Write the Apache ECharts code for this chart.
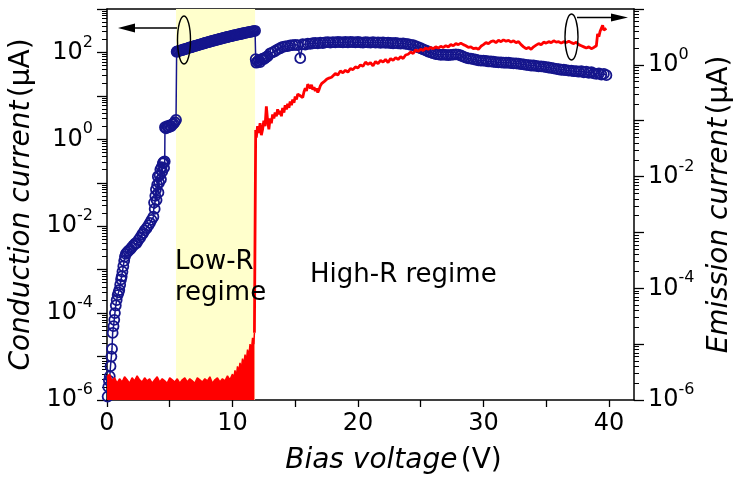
<!DOCTYPE html>
<html><head><meta charset="utf-8">
<script src="https://cdn.jsdelivr.net/npm/echarts@6/dist/echarts.min.js"></script>
<style>html,body{margin:0;padding:0;background:#fff}#c{width:739px;height:481px}</style>
</head><body><div id="c"></div>
<script>
// Conduction current (µA) vs bias voltage (V) — left axis
const condV = [0.05,0.1,0.15,0.22,0.28,0.35,0.4,0.45,0.52,0.58,0.63,0.7,0.77,0.85,0.92,0.98,1.05,1.12,1.17,1.23,1.3,1.37,1.43,1.5,1.6,1.7,1.83,1.95,2.1,2.25,2.36,2.5,2.65,2.8,2.89,3.0,3.15,3.3,3.43,3.55,3.7,3.75,3.8,3.85,3.9,3.95,4.0,4.05,4.1,4.15,4.2,4.25,4.3,4.35,4.4,4.45,4.5,4.55,4.6,4.62,4.7,4.8,4.9,5.0,5.1,5.2,5.3,5.4,5.5,
5.55,5.6,5.7,5.8,5.9,6.0,6.1,6.2,6.3,6.4,6.5,6.6,6.7,6.8,6.9,7.0,7.1,7.2,7.3,7.4,7.5,7.6,7.7,7.8,7.9,8.0,8.1,8.2,8.3,8.4,8.5,8.6,8.7,8.8,8.9,9.0,9.1,9.2,9.3,9.4,9.5,9.6,9.7,9.8,9.9,10.0,10.1,10.2,10.3,10.4,10.5,10.6,10.7,10.8,10.9,11.0,11.1,11.2,11.3,11.4,11.5,11.6,11.7,11.8,
11.85,11.9,12.0,12.1,12.2,12.3,12.4,12.5,12.6,12.7,12.8,13.0,13.2,13.4,13.6,13.8,14.0,14.2,14.4,14.6,14.8,15.0,15.2,15.4,15.6,15.8,16.0,16.2,16.4,16.6,16.8,17.0,17.2,17.4,17.6,17.8,18.0,18.2,18.4,18.6,18.8,19.0,19.2,19.4,19.6,19.8,20.0,20.2,20.4,20.6,20.8,21.0,21.2,21.4,21.6,21.8,22.0,22.2,22.4,22.6,22.8,23.0,23.2,23.4,23.6,23.8,24.0,24.2,24.4,24.6,24.8,25.0,25.2,25.4,25.6,25.8,26.0,26.2,26.4,26.6,26.8,27.0,27.2,27.4,27.6,27.8,28.0,28.2,28.4,28.6,28.8,29.0,29.2,29.4,29.6,29.8,30.0,30.2,30.4,30.6,30.8,31.0,31.2,31.4,31.6,31.8,32.0,32.2,32.4,32.6,32.8,33.0,33.2,33.4,33.6,33.8,34.0,34.2,34.4,34.6,34.8,35.0,35.2,35.4,35.6,35.8,36.0,36.2,36.4,36.6,36.8,37.0,37.2,37.4,37.6,37.8,38.0,38.2,38.4,38.6,38.8,39.0,39.2,39.4,39.6,39.8];
const condI = [1.2e-6,2.0e-6,2.8e-6,3.5e-6,6e-6,1.0e-5,1.5e-5,3.5e-5,5e-5,7e-5,1.0e-4,1.5e-4,2.0e-4,2.6e-4,3.0e-4,3.4e-4,4.5e-4,6e-4,7e-4,9e-4,1.2e-3,1.6e-3,2.0e-3,2.3e-3,2.5e-3,2.7e-3,2.9e-3,3.2e-3,3.6e-3,4.0e-3,4.1e-3,4.8e-3,5.5e-3,6.5e-3,7.0e-3,8.0e-3,9.0e-3,1.05e-2,1.2e-2,1.4e-2,1.65e-2,3.5e-2,2.5e-2,5e-2,7e-2,4e-2,9e-2,0.14,0.06,0.1,0.15,0.2,0.12,0.23,0.18,0.28,0.3,0.22,0.31,1.9,1.8,2.0,1.9,2.1,2.0,2.2,2.3,2.5,2.8,
104,105,107,110,112,114,117,119,121,124,127,130,132,135,138,141,143,146,149,152,155,158,161,165,168,171,174,177,181,184,187,191,194,198,201,205,209,212,216,220,224,227,231,235,238,242,246,250,254,258,262,265,269,273,278,282,286,290,294,298,302,306,310,315,
70,58,62,66,60,68,72,70,75,78,82,95,100,108,118,125,135,138,140,145,148,150,148,74,155,152,160,158,163,165,162,168,165,170,172,168,173,170,175,172,170,174,171,176,172,170,174,171,168,172,170,168,172,169,171,167,170,166,168,165,163,166,162,160,162,157,155,150,148,140,132,125,118,112,105,100,96,92,90,88,89,88,87,88,89,90,89,85,80,76,73,72,70,68,66,65,65,64,62,62,61,60,59,59,58,58,58,57,56,56,55,54,53,52,51,50,50,49,48,48,47,46,45,44,43,42,41,40,40,39,38,38,37,37,36,37,35,36,34,35,33,32,33,31,32,30,31];

// Emission current (µA) — right axis; noise floor below the turn-on
const emisBaseV = [0,0.2,0.4,0.6,0.8,1.0,1.2,1.4,1.6,1.8,2.0,2.2,2.4,2.6,2.8,3.0,3.2,3.4,3.6,3.8,4.0,4.2,4.4,4.6,4.8,5.0,5.2,5.4,5.6,5.8,6.0,6.2,6.4,6.6,6.8,7.0,7.2,7.4,7.6,7.8,8.0,8.2,8.4,8.6,8.8,9.0,9.2,9.4,9.6,9.8,10.0,10.1,10.2,10.3,10.4,10.5,10.6,10.7,10.8,10.9,11.0,11.1,11.2,11.3,11.4,11.5,11.6,11.7,11.75];
const emisBaseI = [2.6e-6,2.9e-6,2.2e-6,2.5e-6,2.0e-6,2.4e-6,2.1e-6,2.6e-6,2.3e-6,2.0e-6,2.5e-6,2.2e-6,2.7e-6,2.3e-6,2.1e-6,2.5e-6,2.2e-6,2.4e-6,2.0e-6,2.3e-6,2.6e-6,2.1e-6,2.4e-6,2.2e-6,2.0e-6,2.5e-6,2.3e-6,2.1e-6,2.4e-6,2.0e-6,2.3e-6,2.5e-6,2.1e-6,2.4e-6,2.2e-6,2.0e-6,2.5e-6,2.3e-6,2.1e-6,2.4e-6,2.2e-6,2.6e-6,2.0e-6,2.3e-6,2.5e-6,2.1e-6,2.4e-6,2.2e-6,2.7e-6,2.3e-6,2.9e-6,2.4e-6,3.4e-6,2.6e-6,4.0e-6,3.2e-6,4.6e-6,3.5e-6,5.5e-6,4.2e-6,6.5e-6,5.0e-6,8.0e-6,6.0e-6,1.0e-5,7.5e-6,1.3e-5,1.0e-5,1.6e-5];
const emisV = [11.75,11.85,11.9,12.0,12.1,12.2,12.3,12.4,12.5,12.6,12.7,12.8,12.9,13.0,13.1,13.2,13.3,13.4,13.5,13.6,13.7,13.8,13.9,14.0,14.1,14.2,14.3,14.4,14.5,14.6,14.7,14.8,14.9,15.0,15.1,15.2,15.3,15.4,15.5,15.6,15.7,15.8,15.9,16.0,16.1,16.2,16.3,16.4,16.5,16.6,16.7,16.8,16.9,17.0,17.1,17.2,17.3,17.4,17.5,17.6,17.7,17.8,17.9,18.0,18.2,18.4,18.6,18.8,19.0,19.2,19.4,19.6,19.8,20.0,20.2,20.4,20.6,20.8,21.0,21.2,21.4,21.6,21.8,22.0,22.2,22.4,22.6,22.8,23.0,23.2,23.4,23.6,23.8,24.0,24.2,24.4,24.6,24.8,25.0,25.2,25.4,25.6,25.8,26.0,26.2,26.4,26.6,26.8,27.0,27.2,27.4,27.6,27.8,28.0,28.2,28.4,28.6,28.8,29.0,29.2,29.4,29.6,29.8,30.0,30.2,30.4,30.6,30.8,31.0,31.2,31.4,31.6,31.8,32.0,32.2,32.4,32.6,32.8,33.0,33.2,33.4,33.6,33.8,34.0,34.2,34.4,34.6,34.8,35.0,35.2,35.4,35.6,35.8,36.0,36.2,36.4,36.6,36.8,37.0,37.2,37.4,37.6,37.8,38.0,38.2,38.4,38.6,38.8,39.0,39.1,39.2,39.3,39.4,39.5,39.6,39.7,39.8];
const emisI = [1.6e-5,0.068,0.05,0.08,0.06,0.09,0.055,0.07,0.1,0.08,0.18,0.1,0.07,0.11,0.09,0.13,0.11,0.14,0.12,0.16,0.13,0.15,0.12,0.17,0.14,0.19,0.16,0.2,0.17,0.22,0.19,0.24,0.21,0.27,0.24,0.3,0.32,0.28,0.3,0.26,0.33,0.38,0.34,0.45,0.42,0.38,0.44,0.36,0.4,0.34,0.38,0.32,0.36,0.42,0.46,0.44,0.5,0.48,0.55,0.52,0.58,0.56,0.6,0.58,0.7,0.66,0.78,0.72,0.8,0.74,0.86,0.82,0.92,0.88,1.0,0.94,1.12,1.02,1.1,0.96,1.15,1.05,1.2,1.12,1.25,1.1,1.3,1.2,1.35,1.25,1.4,1.3,1.5,1.55,1.7,1.6,1.85,1.75,1.9,1.8,2.0,1.9,2.05,1.95,2.1,2.0,2.15,2.05,2.2,2.1,2.3,2.2,2.4,2.3,2.45,2.3,2.2,2.05,2.1,1.95,2.0,1.9,2.15,2.3,2.5,2.4,2.6,2.7,2.5,2.75,2.6,2.8,2.65,2.75,2.55,2.7,2.5,2.6,2.3,2.1,1.95,2.05,1.9,2.1,2.25,2.4,2.3,2.55,2.45,2.6,2.5,2.7,2.55,2.6,2.45,2.6,2.5,2.65,2.5,2.4,2.55,2.3,2.2,2.1,2.0,2.1,1.95,2.05,2.2,3.6,3.2,4.0,3.8,5.1,4.2,3.9,4.5];

const xTickVals = [0,5,10,15,20,25,30,35,40];
const xLabelVals = [0,10,20,30,40];
const bandV = [5.5, 11.8];

const FONT = 'DejaVu Sans';
const NAVY = '#15158c';
const RED = '#ff0000';

function minorTicks(lo, hi) {
  const a = [];
  for (let e = lo; e < hi; e++) for (let m = 2; m <= 9; m++) a.push(m * Math.pow(10, e));
  return a;
}
const leftMinor = minorTicks(-6, 3);
const rightMinor = minorTicks(-6, 1);

function powLabel(v) {
  const e = Math.round(Math.log10(v));
  if (e % 2 !== 0) return '';
  return '{b|10}{s|' + e + '}';
}
const richTick = {
  b: { fontSize: 24, fontFamily: FONT, color: '#000' },
  s: { fontSize: 16, fontFamily: FONT, color: '#000', padding: [0, 0, 20, 0] }
};
const richName = {
  i: { fontSize: 28, fontFamily: FONT, fontStyle: 'italic', color: '#000' },
  n: { fontSize: 28, fontFamily: FONT, color: '#000' }
};
const axisLine = { show: true, lineStyle: { color: '#000', width: 1.5 } };

const zip = (a, b) => a.map((x, i) => [x, b[i]]);

const chart = echarts.init(document.getElementById('c'), null, { renderer: 'canvas' });
chart.setOption({
  animation: false,
  backgroundColor: '#fff',
  grid: { left: 107, right: 105, top: 9, bottom: 81, outerBoundsMode: 'none' },
  xAxis: [
    {
      type: 'value', min: 0, max: 42, position: 'bottom',
      axisLine: axisLine,
      axisTick: { show: true, length: 7, customValues: xTickVals, lineStyle: { color: '#000', width: 1.3 } },
      axisLabel: { customValues: xLabelVals, fontSize: 24, fontFamily: FONT, color: '#000', margin: 12 },
      splitLine: { show: false },
      name: '{i|Bias voltage} {n|(V)}', nameLocation: 'middle', nameGap: 47,
      nameTextStyle: { rich: richName, padding: [0, 0, 0, 46] }
    },
    {
      type: 'value', min: 0, max: 42, position: 'top',
      axisLine: axisLine, axisTick: { show: false }, axisLabel: { show: false }, splitLine: { show: false }
    }
  ],
  yAxis: [
    {
      type: 'log', logBase: 10, min: 1e-6, max: 1e3, position: 'left',
      axisLine: axisLine,
      axisTick: { show: true, length: 10, lineStyle: { color: '#000', width: 1.3 } },
      axisLabel: { formatter: powLabel, rich: richTick, margin: 14 },
      splitLine: { show: false },
      name: '{i|Conduction current} {n|(μA)}', nameLocation: 'middle', nameGap: 70,
      nameTextStyle: { rich: richName }
    },
    {
      type: 'log', logBase: 10, min: 1e-6, max: 1e3, position: 'left',
      axisLine: { show: false },
      axisTick: { show: true, length: 5, customValues: leftMinor, lineStyle: { color: '#000', width: 1 } },
      axisLabel: { show: false }, splitLine: { show: false }
    },
    {
      type: 'log', logBase: 10, min: 1e-6, max: 1e1, position: 'right',
      axisLine: axisLine,
      axisTick: { show: true, length: 10, lineStyle: { color: '#000', width: 1.3 } },
      axisLabel: { formatter: powLabel, rich: richTick, margin: 14 },
      splitLine: { show: false },
      name: '{i|Emission current} {n|(μA)}', nameLocation: 'middle', nameGap: 72,
      nameTextStyle: { rich: richName }
    },
    {
      type: 'log', logBase: 10, min: 1e-6, max: 1e1, position: 'right',
      axisLine: { show: false },
      axisTick: { show: true, length: 5, customValues: rightMinor, lineStyle: { color: '#000', width: 1 } },
      axisLabel: { show: false }, splitLine: { show: false }
    }
  ],
  series: [
    {
      name: 'emission floor', type: 'line', xAxisIndex: 0, yAxisIndex: 2,
      data: zip(emisBaseV, emisBaseI), showSymbol: false, z: 4,
      lineStyle: { color: RED, width: 1.5 },
      areaStyle: { color: RED, opacity: 1, origin: 'start' },
      markArea: {
        silent: true, z: 1,
        itemStyle: { color: '#ffffcc' },
        data: [[{ xAxis: bandV[0] }, { xAxis: bandV[1] }]]
      }
    },
    {
      name: 'conduction', type: 'line', xAxisIndex: 0, yAxisIndex: 0,
      data: zip(condV, condI), z: 3,
      symbol: 'circle', symbolSize: 10,
      itemStyle: { color: 'rgba(0,0,0,0)', borderColor: NAVY, borderWidth: 1.8 },
      lineStyle: { color: NAVY, width: 1.5 }
    },
    {
      name: 'emission', type: 'line', xAxisIndex: 0, yAxisIndex: 2,
      data: zip(emisV, emisI), showSymbol: false, z: 4,
      lineStyle: { color: RED, width: 2.8 }
    }
  ],
  graphic: [
    { type: 'ellipse', shape: { cx: 184, cy: 40, rx: 6.5, ry: 24 }, style: { fill: 'none', stroke: '#000', lineWidth: 1.4 }, z: 50 },
    { type: 'line', shape: { x1: 177, y1: 28, x2: 130, y2: 28 }, style: { stroke: '#000', lineWidth: 1.4 }, z: 50 },
    { type: 'polygon', shape: { points: [[118, 28], [135, 23.5], [135, 32.5]] }, style: { fill: '#000' }, z: 50 },
    { type: 'ellipse', shape: { cx: 571.5, cy: 37, rx: 6.5, ry: 23 }, style: { fill: 'none', stroke: '#000', lineWidth: 1.4 }, z: 50 },
    { type: 'line', shape: { x1: 577, y1: 17.5, x2: 614, y2: 17.5 }, style: { stroke: '#000', lineWidth: 1.4 }, z: 50 },
    { type: 'polygon', shape: { points: [[628, 17.5], [611, 13.5], [611, 21.5]] }, style: { fill: '#000' }, z: 50 },
    { type: 'text', x: 175, y: 262, style: { text: 'Low-R', font: '26px "DejaVu Sans"', fill: '#000', textVerticalAlign: 'middle', verticalAlign: 'middle' }, z: 50 },
    { type: 'text', x: 175, y: 293, style: { text: 'regime', font: '26px "DejaVu Sans"', fill: '#000', textVerticalAlign: 'middle', verticalAlign: 'middle' }, z: 50 },
    { type: 'text', x: 310, y: 275, style: { text: 'High-R regime', font: '26px "DejaVu Sans"', fill: '#000', textVerticalAlign: 'middle', verticalAlign: 'middle' }, z: 50 }
  ]
});
</script></body></html>
